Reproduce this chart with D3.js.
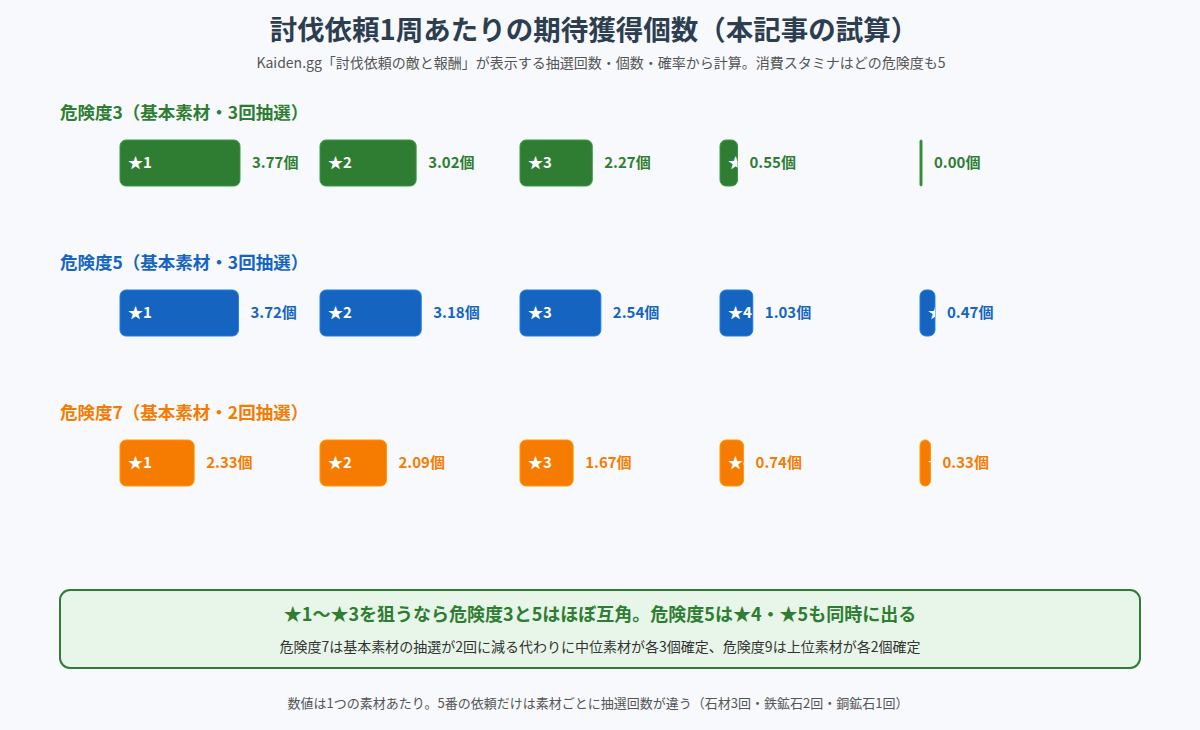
<!DOCTYPE html>
<html><head><meta charset="utf-8">
<script src="https://cdn.jsdelivr.net/npm/d3@7"></script>
<style>
html,body{margin:0;padding:0;background:#f7f9fc;}
text{font-family:"Noto Sans CJK JP","Noto Sans",sans-serif;}
</style></head>
<body><svg id="c" width="1200" height="730"></svg>
<script>
const titleText = "討伐依頼1周あたりの期待獲得個数（本記事の試算）";
const subtitleText = "Kaiden.gg「討伐依頼の敵と報酬」が表示する抽選回数・個数・確率から計算。消費スタミナはどの危険度も5";
const rarities = ["★1","★2","★3","★4","★5"];
const groups = ["危険度3（基本素材・3回抽選）","危険度5（基本素材・3回抽選）","危険度7（基本素材・2回抽選）"];
const groupColors = ["#2e7d32","#1565c0","#f57c00"];
const values3 = [3.77,3.02,2.27,0.55,0.00];
const values5 = [3.72,3.18,2.54,1.03,0.47];
const values7 = [2.33,2.09,1.67,0.74,0.33];
const seriesValues = [values3, values5, values7];
const noteTitle = "★1〜★3を狙うなら危険度3と5はほぼ互角。危険度5は★4・★5も同時に出る";
const noteBody = "危険度7は基本素材の抽選が2回に減る代わりに中位素材が各3個確定、危険度9は上位素材が各2個確定";
const footerText = "数値は1つの素材あたり。5番の依頼だけは素材ごとに抽選回数が違う（石材3回・鉄鉱石2回・銅鉱石1回）";

const svg = d3.select("#c");
const defs = svg.append("defs");
svg.append("text").attr("x",594).attr("y",40).attr("text-anchor","middle")
  .attr("font-size",27.5).attr("font-weight",700).attr("fill","#2c3e50").text(titleText);
svg.append("text").attr("x",601).attr("y",68).attr("text-anchor","middle")
  .attr("font-size",14).attr("fill","#555").text(subtitleText);

const colX = d3.scalePoint().domain(rarities).range([120,920]);
const w = d3.scaleLinear().domain([0,3.77]).range([0,120]);
const rowY = d3.scalePoint().domain(groups).range([140,440]);
const barH = 46;
const bw = v => Math.max(w(v),2);

groups.forEach((g,gi)=>{
  const y0 = rowY(g);
  const col = groupColors[gi];
  svg.append("text").attr("x",60).attr("y",y0-21).attr("font-size",17.5).attr("font-weight",700)
    .attr("fill",col).text(g);
  const data = seriesValues[gi].map((v,i)=>({r:rarities[i],v,id:"clip"+gi+"_"+i}));
  data.forEach(d=>{
    defs.append("clipPath").attr("id",d.id).append("rect")
      .attr("x",colX(d.r)).attr("y",y0).attr("width",bw(d.v)).attr("height",barH);
  });
  const cell = svg.append("g").selectAll("g").data(data).join("g");
  cell.append("rect").attr("x",d=>colX(d.r)).attr("y",y0)
    .attr("width",d=>bw(d.v)).attr("height",barH)
    .attr("rx",d=>Math.min(6,bw(d.v)/2)).attr("fill",col)
    .attr("stroke",d3.color(col).brighter(0.6)).attr("stroke-width",1);
  cell.append("text").attr("clip-path",d=>"url(#"+d.id+")")
    .attr("x",d=>colX(d.r)+8).attr("y",y0+barH/2+5)
    .attr("font-size",15).attr("font-weight",700).attr("fill","#fff").text(d=>d.r);
  cell.append("text").attr("x",d=>colX(d.r)+bw(d.v)+12).attr("y",y0+barH/2+5)
    .attr("font-size",15).attr("font-weight",700).attr("fill",col).text(d=>d.v.toFixed(2)+"個");
});

svg.append("rect").attr("x",60).attr("y",590).attr("width",1080).attr("height",78).attr("rx",10)
  .attr("fill","#e8f5e9").attr("stroke","#2e7d32").attr("stroke-width",2);
svg.append("text").attr("x",600).attr("y",621).attr("text-anchor","middle").attr("font-size",18)
  .attr("font-weight",700).attr("fill","#2e7d32").text(noteTitle);
svg.append("text").attr("x",600).attr("y",652).attr("text-anchor","middle").attr("font-size",14)
  .attr("fill","#333").text(noteBody);
svg.append("text").attr("x",598).attr("y",708).attr("text-anchor","middle").attr("font-size",13)
  .attr("fill","#555").text(footerText);
</script></body></html>
